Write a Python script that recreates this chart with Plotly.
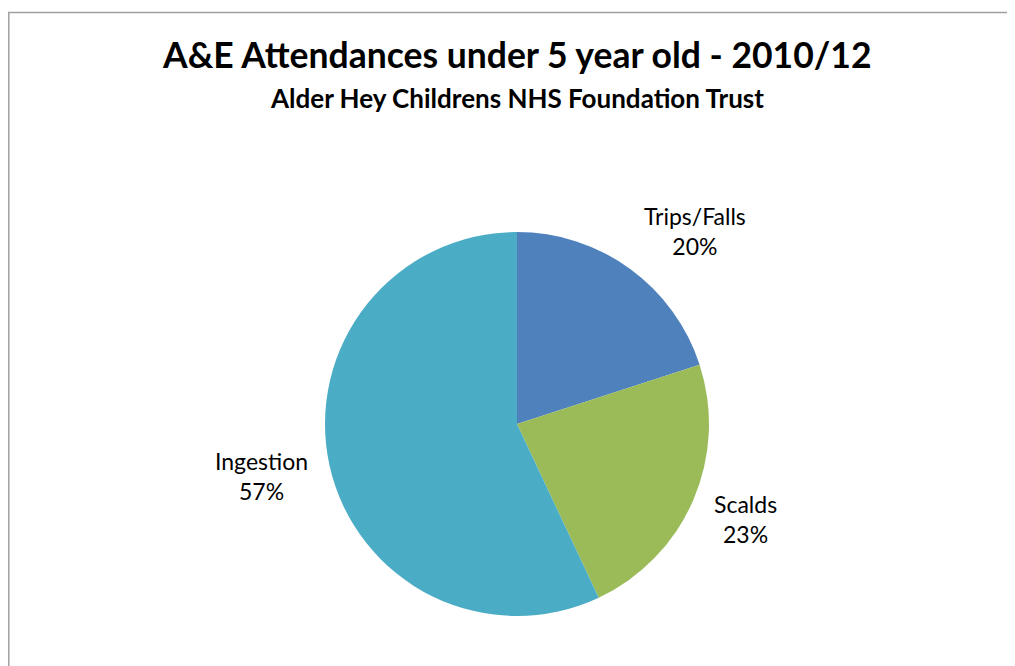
import math
import plotly.graph_objects as go

categories = ["Trips/Falls", "Scalds", "Ingestion"]
values = [20, 23, 57]
colors = ["#4F81BD", "#9BBB59", "#4BACC6"]

# page has an 8px body margin, so figure coordinates = screen - 8
W, H = 1007, 658
cx, cy, r = 509, 416, 192
label_gap = 20      # distance of label box corner from pie edge
label_half_h = 27   # half height of a two-line label

fig = go.Figure(go.Pie(
    labels=categories,
    values=values,
    sort=False,
    direction="clockwise",
    rotation=0,
    marker=dict(colors=colors, line=dict(width=0)),
    textinfo="none",
    hoverinfo="label+percent",
    showlegend=False,
    domain=dict(x=[(cx - r) / W, (cx + r) / W], y=[1 - (cy + r) / H, 1 - (cy - r) / H]),
))

# data labels placed outside each slice along its mid-angle (derived from values)
total = sum(values)
annotations = []
acc = 0
for cat, v in zip(categories, values):
    mid = 2 * math.pi * (acc + v / 2) / total
    acc += v
    s, c = math.sin(mid), math.cos(mid)
    px = cx + (r + label_gap) * s
    py = cy - (r + label_gap) * c - label_half_h * c
    annotations.append(dict(
        text=f"{cat}<br>{round(100 * v / total)}%", x=px / W, y=1 - py / H,
        xref="paper", yref="paper", showarrow=False,
        xanchor="left" if s > 0 else "right", yanchor="middle",
        align="center", font=dict(family="Lato", size=23, color="#000000")))

annotations += [
    dict(text="<b>A&E Attendances under 5 year old - 2010/12</b>", x=cx / W, y=1 - 46 / H,
         xref="paper", yref="paper", showarrow=False, xanchor="center", yanchor="middle",
         font=dict(family="Lato", size=35.5, color="#000000")),
    dict(text="<b>Alder Hey Childrens NHS Foundation Trust</b>", x=cx / W, y=1 - 90 / H,
         xref="paper", yref="paper", showarrow=False, xanchor="center", yanchor="middle",
         font=dict(family="Lato", size=26, color="#000000")),
]

fig.update_layout(
    width=W, height=H,
    margin=dict(l=0, r=0, t=0, b=0),
    paper_bgcolor="white",
    annotations=annotations,
    shapes=[dict(type="rect", xref="paper", yref="paper", x0=0.8 / W, x1=1.02, y0=-0.02, y1=1 - 4.5 / H,
                 line=dict(color="#A0A0A0", width=1.5), fillcolor="rgba(0,0,0,0)", layer="below")],
)

fig.write_html("out.html")
